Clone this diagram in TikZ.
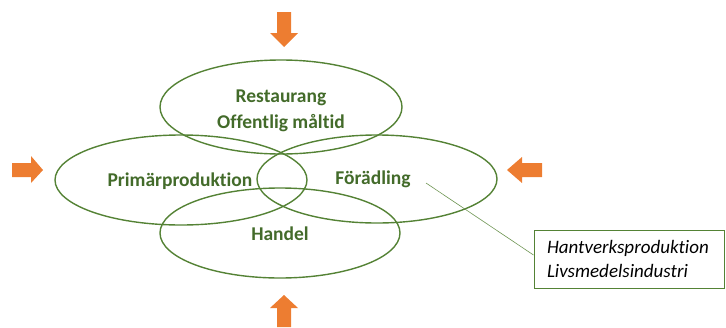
\documentclass[tikz,border=0pt]{standalone}
\usepackage{fontspec}
\setmainfont{Carlito}[Ligatures=NoCommon]
\definecolor{lgreen}{HTML}{548235}
\definecolor{tgreen}{HTML}{436B2A}
\definecolor{orng}{HTML}{ED7D31}
\tikzset{
  ring/.style={draw=lgreen, line width=1.4pt},
  lbl/.style={text=tgreen, font=\fontsize{19.5}{26}\selectfont\bfseries, align=center, inner sep=0pt},
  note/.style={draw=lgreen, line width=1pt, fill=white, font=\fontsize{19}{24}\selectfont\itshape, align=left, inner xsep=13pt, inner ysep=0pt, minimum height=58pt, text width=164pt},
  fatarrow/.style={fill=orng, draw=none}
}
\begin{document}
\begin{tikzpicture}[x=1pt,y=-1pt]
\useasboundingbox (0,0) rectangle (726,327);
% ellipses
\draw[ring] (281,107) ellipse [x radius=121, y radius=47];
\draw[ring] (181,180) ellipse [x radius=126, y radius=45];
\draw[ring] (377,179) ellipse [x radius=120, y radius=44];
\draw[ring] (280,233) ellipse [x radius=120, y radius=45];
% labels
\node[lbl] (rest) at (281,111) {Restaurang\\Offentlig måltid};
\node[lbl] (prim) at (180,181) {Primärproduktion};
\node[lbl] (foer) at (373,179) {Förädling};
\node[lbl] (hand) at (280,234) {Handel};
% note box
\node[note] (box) at (629,259) {Hantverksproduktion\\Livsmedelsindustri};
\coordinate (lstart) at (426,183);
\draw[lgreen!85, line width=0.6pt] (lstart) -- ([yshift=4pt]box.west);
% arrows
\fill[fatarrow] (277,12) -- (291,12) -- (291,33) -- (298,33) -- (284,47) -- (270,33) -- (277,33) -- cycle;
\fill[fatarrow] (277,327) -- (291,327) -- (291,308) -- (298,308) -- (284,295) -- (270,308) -- (277,308) -- cycle;
\fill[fatarrow] (12,163) -- (31,163) -- (31,156) -- (43,170) -- (31,183) -- (31,177) -- (12,177) -- cycle;
\fill[fatarrow] (542,163) -- (522,163) -- (522,157) -- (507,170) -- (522,183) -- (522,177) -- (542,177) -- cycle;
\end{tikzpicture}
\end{document}
